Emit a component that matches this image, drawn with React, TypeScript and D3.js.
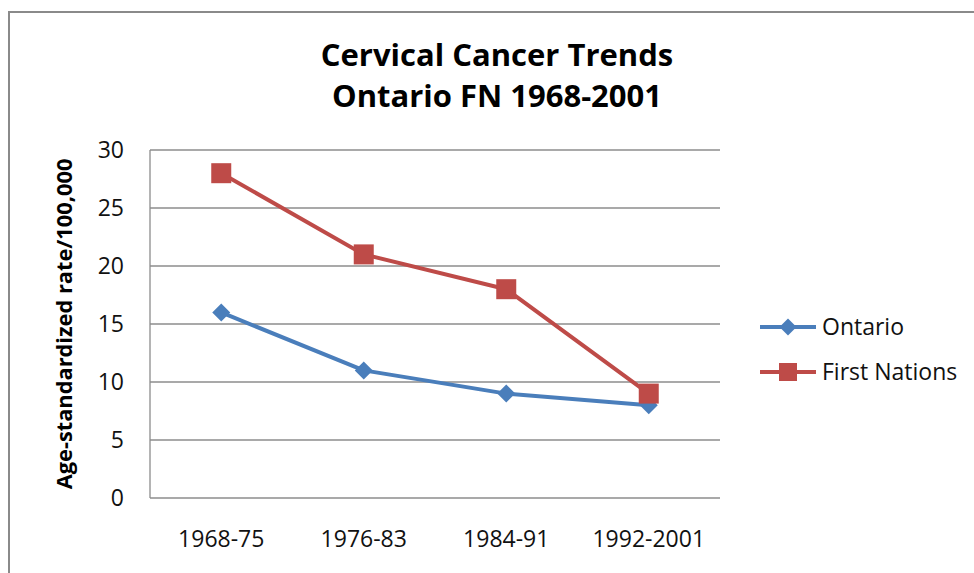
import React from "react";
import * as d3 from "d3";

const categories = ["1968-75", "1976-83", "1984-91", "1992-2001"];
const ontario = [16, 11, 9, 8];
const firstNations = [28, 21, 18, 9];
const yTicks = [0, 5, 10, 15, 20, 25, 30];
const titleLines = ["Cervical Cancer Trends", "Ontario FN 1968-2001"];
const yLabel = "Age-standardized rate/100,000";
const seriesNames = ["Ontario", "First Nations"];

const W = 974, H = 573;
const plot = { left: 150, right: 720, top: 150, bottom: 498 };
const BLUE = "#4A7EBB";
const RED = "#BE4B48";
const FONT = "'Open Sans', sans-serif";

export default function App() {
  const x = d3.scalePoint<string>().domain(categories).range([plot.left, plot.right]).padding(0.5);
  const y = d3.scaleLinear().domain([0, 30]).range([plot.bottom, plot.top]);
  const line = d3.line<number>().x((_, i) => x(categories[i])!).y((d) => y(d));

  const diamond = (cx: number, cy: number, r: number) =>
    `M${cx},${cy - r}L${cx + r},${cy}L${cx},${cy + r}L${cx - r},${cy}Z`;

  return (
    <svg width={W} height={H} style={{ position: "absolute", left: 0, top: 0 }}>
      <rect x={0} y={0} width={W} height={H} fill="#fff" />
      <path d={`M9,${H + 5}V12H${W + 5}`} fill="none" stroke="#8a8a8a" strokeWidth={2} />
      {titleLines.map((t, i) => (
        <text key={i} x={497} y={66 + i * 41} textAnchor="middle" fontFamily={FONT} fontWeight="bold" fontSize={31} fill="#000">
          {t}
        </text>
      ))}
      {yTicks.map((t) => (
        <g key={t}>
          <line x1={plot.left} x2={plot.right} y1={y(t)} y2={y(t)} stroke="#8c8c8c" strokeWidth={1.3} />
          <text x={124} y={y(t) + 8} textAnchor="end" fontFamily={FONT} fontSize={23} fill="#111">{t}</text>
        </g>
      ))}
      <line x1={plot.left} x2={plot.left} y1={plot.top} y2={plot.bottom} stroke="#8c8c8c" strokeWidth={1.3} />
      {categories.map((c) => (
        <text key={c} x={x(c)} y={547} textAnchor="middle" fontFamily={FONT} fontSize={23} fill="#111">{c}</text>
      ))}
      <text transform={`translate(72,${(plot.top + plot.bottom) / 2}) rotate(-90)`} textAnchor="middle" fontFamily={FONT} fontWeight="bold" fontSize={21.8} fill="#000">
        {yLabel}
      </text>
      <path d={line(ontario)!} fill="none" stroke={BLUE} strokeWidth={4} strokeLinejoin="round" />
      <path d={line(firstNations)!} fill="none" stroke={RED} strokeWidth={4} strokeLinejoin="round" />
      {ontario.map((v, i) => (
        <path key={i} d={diamond(x(categories[i])!, y(v), 9)} fill={BLUE} />
      ))}
      {firstNations.map((v, i) => (
        <rect key={i} x={x(categories[i])! - 10} y={y(v) - 10} width={20} height={20} fill={RED} />
      ))}
      <g>
        <line x1={760} x2={816} y1={327} y2={327} stroke={BLUE} strokeWidth={4} />
        <path d={diamond(788, 327, 8.5)} fill={BLUE} />
        <text x={822} y={335} fontFamily={FONT} fontSize={23} fill="#111">{seriesNames[0]}</text>
        <line x1={760} x2={816} y1={372} y2={372} stroke={RED} strokeWidth={4} />
        <rect x={779} y={363} width={18} height={18} fill={RED} />
        <text x={822} y={380} fontFamily={FONT} fontSize={23} fill="#111">{seriesNames[1]}</text>
      </g>
    </svg>
  );
}
